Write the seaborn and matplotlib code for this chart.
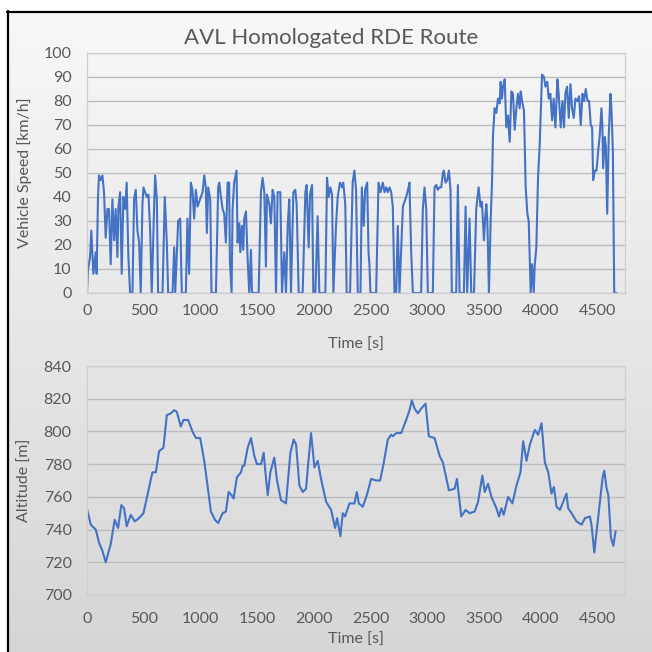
import numpy as np
import pandas as pd
import matplotlib
matplotlib.use("Agg")
import matplotlib.pyplot as plt
import seaborn as sns
from matplotlib.lines import Line2D
from matplotlib.colors import LinearSegmentedColormap

# ---------------- data ----------------
speed_time = [0, 9, 27, 38, 56, 77, 85, 97, 106, 121, 136, 150, 165, 180, 194, 209, 224, 239, 253, 268,
              277, 292, 306, 321, 336, 350, 365, 380, 401, 415, 430, 445, 460, 474, 489, 498, 513, 527, 542, 557,
              571, 592, 601, 616, 627, 666, 686, 704, 716, 754, 769, 778, 804, 822, 836, 872, 886, 901, 916, 930,
              945, 960, 975, 990, 1004, 1019, 1034, 1048, 1057, 1069, 1087, 1098, 1137, 1157, 1166, 1181, 1196, 1210, 1225, 1240,
              1254, 1260, 1275, 1284, 1298, 1319, 1328, 1343, 1352, 1366, 1378, 1387, 1402, 1416, 1431, 1446, 1455, 1514, 1534, 1549,
              1564, 1578, 1587, 1608, 1622, 1637, 1652, 1667, 1681, 1705, 1720, 1740, 1755, 1770, 1784, 1799, 1820, 1837, 1849, 1867,
              1902, 1926, 1937, 1955, 1967, 1985, 1996, 2014, 2034, 2049, 2102, 2117, 2131, 2146, 2161, 2173, 2196, 2211, 2231, 2249,
              2260, 2278, 2290, 2320, 2343, 2358, 2373, 2388, 2412, 2424, 2441, 2453, 2471, 2483, 2491, 2500, 2550, 2571, 2589, 2609,
              2624, 2639, 2653, 2668, 2683, 2697, 2712, 2727, 2741, 2756, 2771, 2786, 2800, 2815, 2836, 2844, 2859, 2874, 2947, 2962,
              2977, 2992, 3006, 3050, 3065, 3080, 3094, 3109, 3124, 3139, 3147, 3162, 3177, 3192, 3206, 3218, 3256, 3271, 3286, 3324,
              3339, 3353, 3374, 3389, 3413, 3433, 3454, 3471, 3483, 3501, 3513, 3522, 3530, 3537, 3545, 3560, 3572, 3581, 3595, 3610,
              3625, 3640, 3648, 3660, 3669, 3684, 3698, 3713, 3728, 3743, 3757, 3772, 3787, 3801, 3816, 3825, 3837, 3854, 3869, 3884,
              3896, 3913, 3925, 3940, 3948, 3963, 3978, 3993, 4013, 4031, 4043, 4060, 4072, 4087, 4102, 4116, 4131, 4149, 4160, 4178,
              4193, 4207, 4219, 4234, 4249, 4264, 4278, 4293, 4308, 4325, 4340, 4355, 4370, 4384, 4399, 4414, 4428, 4443, 4455, 4464,
              4479, 4494, 4508, 4523, 4537, 4546, 4552, 4567, 4576, 4588, 4602, 4617, 4626, 4638, 4650, 4670]
speed_kmh = [0, 10, 15, 26, 8, 17, 8, 40, 49, 47, 49, 42, 23, 35, 35, 12, 39, 22, 35, 15,
             36, 42, 8, 40, 35, 46, 15, 0, 0, 39, 43, 26, 21, 0, 37, 44, 42, 40, 41, 26,
             0, 36, 49, 39, 0, 0, 40, 21, 0, 0, 19, 0, 30, 31, 0, 0, 31, 8, 46, 43,
             31, 43, 36, 38, 40, 42, 49, 44, 25, 44, 39, 0, 0, 44, 46, 40, 35, 33, 21, 46,
             46, 14, 0, 35, 46, 51, 21, 29, 17, 28, 18, 31, 34, 15, 0, 18, 0, 0, 42, 48,
             42, 11, 41, 37, 29, 43, 40, 0, 42, 42, 0, 17, 0, 28, 39, 0, 42, 43, 37, 0,
             0, 42, 45, 19, 41, 45, 0, 0, 32, 0, 0, 48, 40, 44, 41, 0, 28, 40, 46, 44,
             46, 37, 0, 0, 46, 51, 43, 0, 0, 44, 28, 43, 46, 17, 12, 0, 0, 46, 42, 46,
             42, 44, 42, 44, 42, 36, 0, 0, 28, 0, 18, 36, 38, 40, 44, 46, 17, 0, 0, 35,
             44, 35, 0, 0, 44, 45, 43, 44, 44, 50, 51, 46, 47, 51, 43, 0, 0, 45, 0, 0,
             36, 0, 31, 0, 0, 35, 44, 36, 38, 22, 32, 37, 31, 18, 0, 30, 46, 66, 77, 75,
             81, 79, 88, 81, 86, 89, 69, 74, 63, 84, 83, 68, 77, 83, 77, 84, 80, 76, 44, 33,
             30, 0, 12, 0, 11, 19, 48, 62, 91, 90, 86, 88, 81, 83, 72, 81, 69, 89, 83, 69,
             80, 69, 83, 86, 73, 87, 77, 73, 81, 80, 82, 70, 83, 80, 85, 80, 80, 70, 69, 47,
             51, 51, 59, 66, 77, 69, 52, 65, 61, 33, 66, 83, 76, 59, 0, 0]

alt_time = [3, 33, 77, 106, 136, 165, 209, 244, 274, 303, 327, 350, 386, 421, 459, 498, 533, 577, 607, 636,
            674, 704, 739, 768, 792, 827, 851, 892, 930, 960, 998, 1034, 1063, 1093, 1128, 1157, 1196, 1225, 1249, 1275,
            1293, 1322, 1358, 1373, 1387, 1417, 1446, 1476, 1499, 1535, 1558, 1579, 1594, 1617, 1652, 1676, 1711, 1755, 1794, 1823,
            1844, 1873, 1903, 1932, 1953, 1976, 2006, 2035, 2064, 2109, 2153, 2188, 2206, 2235, 2256, 2276, 2315, 2359, 2380, 2397,
            2433, 2468, 2506, 2550, 2585, 2615, 2653, 2683, 2697, 2727, 2771, 2815, 2845, 2865, 2889, 2918, 2948, 2986, 3015, 3065,
            3110, 3139, 3192, 3242, 3263, 3301, 3339, 3375, 3419, 3449, 3487, 3508, 3537, 3567, 3611, 3634, 3655, 3675, 3714, 3752,
            3788, 3823, 3847, 3876, 3906, 3950, 3979, 4009, 4038, 4068, 4097, 4118, 4141, 4171, 4200, 4229, 4244, 4283, 4318, 4362,
            4392, 4436, 4451, 4474, 4495, 4524, 4548, 4562, 4583, 4598, 4621, 4642, 4662]
alt_m = [752, 743, 740, 732, 727, 720, 731, 746, 741, 755, 753, 742, 749, 745, 747, 750, 761, 775, 775, 788,
         790, 810, 811, 813, 812, 803, 807, 807, 800, 796, 796, 782, 767, 751, 746, 744, 750, 751, 763, 761,
         759, 772, 775, 779, 779, 790, 796, 785, 780, 780, 787, 771, 761, 775, 784, 770, 758, 756, 787, 795,
         792, 767, 763, 765, 782, 799, 778, 782, 771, 757, 752, 741, 747, 736, 750, 748, 756, 756, 763, 756,
         754, 761, 771, 770, 770, 780, 795, 798, 797, 799, 799, 807, 813, 819, 814, 811, 814, 817, 797, 796,
         785, 781, 764, 765, 771, 748, 752, 750, 751, 757, 773, 763, 768, 760, 753, 748, 753, 749, 760, 756,
         767, 775, 794, 782, 792, 801, 798, 805, 781, 775, 762, 766, 754, 752, 757, 762, 753, 749, 745, 743,
         747, 748, 742, 726, 739, 757, 772, 776, 765, 761, 735, 730, 739]

title_text = "AVL Homologated RDE Route"
speed_ticks = [0, 10, 20, 30, 40, 50, 60, 70, 80, 90, 100]
alt_ticks = [700, 720, 740, 760, 780, 800, 820, 840]
time_ticks = [0, 500, 1000, 1500, 2000, 2500, 3000, 3500, 4000, 4500]

speed_df = pd.DataFrame({"Time [s]": speed_time, "Speed": speed_kmh})
alt_df = pd.DataFrame({"Time [s]": alt_time, "Alt": alt_m})

# ---------------- style ----------------
sns.set_style("white")
plt.rcParams["font.family"] = ["Lato", "DejaVu Sans"]
TXT = "#595959"
LINE = "#4472C4"
GRID = "#bdbdbd"

W = H = 652
fig = plt.figure(figsize=(6.52, 6.52), dpi=100)
fig.patch.set_facecolor("white")

# gradient background inside the black frame
bg = fig.add_axes([7 / W, 0, 1 - 7 / W, 1 - 11 / H])
grad = np.linspace(0, 1, 256).reshape(-1, 1)
cmap = LinearSegmentedColormap.from_list("g", ["#f8f8f8", "#d6d6d6"])
bg.imshow(grad, aspect="auto", cmap=cmap, extent=[0, 1, 0, 1], origin="upper")
bg.set_axis_off()
bg.set_zorder(-10)

# frame
fig.add_artist(Line2D([7.5 / W, 7.5 / W], [0, 1 - 11 / H], color="black", lw=1.6, transform=fig.transFigure))
fig.add_artist(Line2D([7 / W, 1], [1 - 11.5 / H, 1 - 11.5 / H], color="black", lw=1.6, transform=fig.transFigure))

def px_axes(left, top, right, bottom):
    return [left / W, 1 - bottom / H, (right - left) / W, (bottom - top) / H]

ax1 = fig.add_axes(px_axes(87, 53, 625, 293))
ax2 = fig.add_axes(px_axes(87, 366, 625, 595))

sns.lineplot(data=speed_df, x="Time [s]", y="Speed", ax=ax1, color=LINE, lw=1.5, estimator=None, sort=False)
sns.lineplot(data=alt_df, x="Time [s]", y="Alt", ax=ax2, color=LINE, lw=1.5, estimator=None, sort=False)

for ax, yt, ylab, xpad in [(ax1, speed_ticks, "Vehicle Speed [km/h]", 8), (ax2, alt_ticks, "Altitude [m]", 12)]:
    ax.set_facecolor("none")
    ax.set_xlim(0, 4745)
    ax.set_ylim(yt[0], yt[-1])
    ax.set_yticks(yt)
    ax.set_xticks(time_ticks)
    ax.grid(axis="y", color=GRID, lw=1.0)
    ax.grid(axis="x", visible=False)
    ax.set_axisbelow(True)
    for s in ax.spines.values():
        s.set_color("#cfcfcf")
        s.set_linewidth(0.9)
    ax.tick_params(axis="both", length=0, labelsize=11.5, labelcolor=TXT)
    ax.tick_params(axis="y", pad=11)
    ax.tick_params(axis="x", pad=xpad)
    ax.set_ylabel(ylab, color=TXT, fontsize=11.5, va="center")
    ax.set_xlabel("Time [s]", color=TXT, fontsize=11.5, va="center")
    ax.yaxis.set_label_coords((25 - 87) / 538, 0.5)

ax1.xaxis.set_label_coords(0.5, (293 - 345) / 240)
ax2.xaxis.set_label_coords(0.5, (595 - 640) / 229)

fig.text(331 / W, 1 - 38 / H, title_text, ha="center", va="center", color=TXT, fontsize=16)

fig.savefig("out.png", dpi=100)
